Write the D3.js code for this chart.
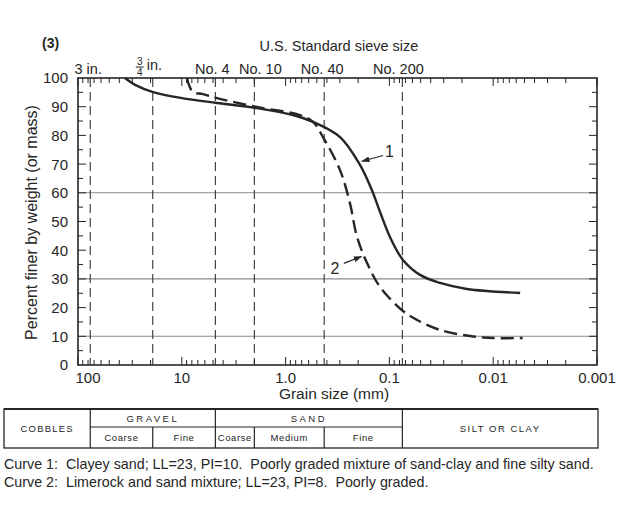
<!DOCTYPE html>
<html>
<head>
<meta charset="utf-8">
<script src="https://cdn.jsdelivr.net/npm/d3@7/dist/d3.min.js"></script>
<style>
  html, body { margin: 0; padding: 0; background: #fff; }
  svg { display: block; font-family: "Liberation Sans", Arial, Helvetica, sans-serif; }
</style>
</head>
<body>
<svg id="chart" width="641" height="531"></svg>
<script>
// ---------- data ----------
const sizes1 = [35.3, 28.2, 18.9, 10.0, 4.58, 1.89, 0.849, 0.545, 0.299, 0.192, 0.147, 0.123, 0.0987, 0.074, 0.0507, 0.0325, 0.0179, 0.0055];
const pct1   = [100, 97.6, 95.1, 93.0, 91.3, 89.5, 87.1, 84.7, 79.4, 69.7, 60.8, 53.3, 44.6, 36.6, 31.4, 28.6, 26.5, 25.1];
const sizes2 = [8.91, 8.53, 7.80, 6.25, 4.58, 1.89, 0.727, 0.545, 0.436, 0.299, 0.240, 0.205, 0.164, 0.123, 0.074, 0.0542, 0.0325, 0.0167, 0.0100, 0.0052];
const pct2   = [100, 97.6, 95.1, 94.4, 93.0, 89.9, 87.1, 84.7, 79.4, 67.9, 56.4, 44.6, 35.5, 27.2, 18.8, 15.7, 12.2, 10.1, 9.4, 9.4];

const sieveNames = ["3 in.", "3/4 in.", "No. 4", "No. 10", "No. 40", "No. 200"];
const sieveSizes = [76.2, 19.05, 4.75, 2.0, 0.425, 0.075];

const xTickValues = [100, 10, 1, 0.1, 0.01, 0.001];
const xTickLabels = ["100", "10", "1.0", "0.1", "0.01", "0.001"];
const yTickValues = [0, 10, 20, 30, 40, 50, 60, 70, 80, 90, 100];
const gridPercents = [60, 30, 10];

const soilGroups = ["COBBLES", "GRAVEL", "SAND", "SILT OR CLAY"];
const soilSubGroups = ["Coarse", "Fine", "Coarse", "Medium", "Fine"];

const captions = [
  "Curve 1:  Clayey sand; LL=23, PI=10.  Poorly graded mixture of sand-clay and fine silty sand.",
  "Curve 2:  Limerock and sand mixture; LL=23, PI=8.  Poorly graded."
];

// ---------- layout ----------
const L = 78, R = 597, T = 78, B = 365;
const ink = "#262626";
const svg = d3.select("#chart");

const x = d3.scaleLog().domain([100, 0.001]).range([L, R]);
const y = d3.scaleLinear().domain([0, 100]).range([B, T]);

// gridlines
svg.append("g").selectAll("line").data(gridPercents).join("line")
  .attr("x1", L).attr("x2", R).attr("y1", d => y(d)).attr("y2", d => y(d))
  .attr("stroke", "#8a8a8a").attr("stroke-width", 1.1);

// sieve dashed verticals
svg.append("g").selectAll("line").data(sieveSizes).join("line")
  .attr("x1", d => x(d)).attr("x2", d => x(d)).attr("y1", T).attr("y2", B)
  .attr("stroke", "#333").attr("stroke-width", 1.1).attr("stroke-dasharray", "9,5");

// log-axis ticks (minor 2..9 per decade, major at decades)
const ticksAll = [];
[100, 10, 1, 0.1, 0.01].forEach(dec => {
  for (let m = 9; m >= 2; m--) ticksAll.push({v: dec * m / 10, major: false});
});
xTickValues.forEach(v => ticksAll.push({v, major: true}));

const tg = svg.append("g").attr("stroke", ink).attr("stroke-width", 1);
tg.selectAll("line.b").data(ticksAll).join("line").attr("class", "b")
  .attr("x1", d => x(d.v)).attr("x2", d => x(d.v))
  .attr("y1", B).attr("y2", d => B - (d.major ? 8 : 5));
tg.selectAll("line.t").data(ticksAll).join("line").attr("class", "t")
  .attr("x1", d => x(d.v)).attr("x2", d => x(d.v))
  .attr("y1", T).attr("y2", d => T + (d.major ? 8 : 5));

// y ticks every 5 on both sides
const yTicksAll = d3.range(5, 100, 5);
tg.selectAll("line.l").data(yTicksAll).join("line").attr("class", "l")
  .attr("y1", d => y(d)).attr("y2", d => y(d))
  .attr("x1", L).attr("x2", d => L + (d % 10 === 0 ? 8 : 5));
tg.selectAll("line.r").data(yTicksAll).join("line").attr("class", "r")
  .attr("y1", d => y(d)).attr("y2", d => y(d))
  .attr("x1", R).attr("x2", d => R - (d % 10 === 0 ? 8 : 5));

// frame
svg.append("rect").attr("x", L).attr("y", T).attr("width", R - L).attr("height", B - T)
  .attr("fill", "none").attr("stroke", ink).attr("stroke-width", 1.6);

// y tick labels
svg.append("g").selectAll("text").data(yTickValues).join("text")
  .attr("x", 68).attr("y", d => y(d)).attr("dy", "0.36em")
  .attr("text-anchor", "end").attr("font-size", 15).attr("fill", ink)
  .text(d => d);

// x tick labels
svg.append("g").selectAll("text").data(xTickValues).join("text")
  .attr("x", (d, i) => x(d) + (i === 0 ? 10 : 0)).attr("y", B + 18)
  .attr("text-anchor", "middle").attr("font-size", 15).attr("fill", ink)
  .text((d, i) => xTickLabels[i]);

// axis titles
svg.append("text").attr("x", 334).attr("y", B + 34).attr("text-anchor", "middle")
  .attr("font-size", 15.5).attr("fill", ink).text("Grain size (mm)");
svg.append("text").attr("transform", `translate(37,${(T + B) / 2 + 1}) rotate(-90)`)
  .attr("text-anchor", "middle").attr("font-size", 16).attr("fill", ink)
  .text("Percent finer by weight (or mass)");

svg.append("text").attr("x", 42).attr("y", 48).attr("font-size", 14).attr("font-weight", "bold")
  .attr("fill", ink).text("(3)");
svg.append("text").attr("x", 339).attr("y", 51).attr("text-anchor", "middle")
  .attr("font-size", 14.5).attr("fill", ink).text("U.S. Standard sieve size");

// sieve labels
const sg = svg.append("g").attr("fill", ink).attr("font-size", 14.5);
const sieveDx = [-2, 0, -3, 6, -2, -4];
sieveNames.forEach((name, i) => {
  const cx = x(sieveSizes[i]) + sieveDx[i];
  if (name.startsWith("3/4")) {
    const g = sg.append("g");
    g.append("text").attr("x", cx - 13).attr("y", 65).attr("text-anchor", "middle").attr("font-size", 10).text("3");
    g.append("line").attr("x1", cx - 17).attr("x2", cx - 9).attr("y1", 67).attr("y2", 67).attr("stroke", ink).attr("stroke-width", 1);
    g.append("text").attr("x", cx - 13).attr("y", 76).attr("text-anchor", "middle").attr("font-size", 10).text("4");
    g.append("text").attr("x", cx - 6).attr("y", 70).attr("text-anchor", "start").text("in.");
  } else {
    sg.append("text").attr("x", cx).attr("y", 74).attr("text-anchor", "middle").text(name);
  }
});

// curves
const line = d3.line().x(d => x(d[0])).y(d => y(d[1])).curve(d3.curveCatmullRom.alpha(0.5));
svg.append("path").datum(sizes1.map((s, i) => [s, pct1[i]])).attr("d", line)
  .attr("fill", "none").attr("stroke", ink).attr("stroke-width", 2.4);
svg.append("path").datum(sizes2.map((s, i) => [s, pct2[i]])).attr("d", line)
  .attr("fill", "none").attr("stroke", ink).attr("stroke-width", 2.4).attr("stroke-dasharray", "13,6");

// curve labels with arrows
const defs = svg.append("defs");
defs.append("marker").attr("id", "ah").attr("viewBox", "0 0 10 10").attr("refX", 9).attr("refY", 5)
  .attr("markerWidth", 7).attr("markerHeight", 7).attr("orient", "auto")
  .append("path").attr("d", "M0,1.5 L10,5 L0,8.5 Z").attr("fill", ink);

const curveLabels = [
  {text: "1", at: [0.100, 74.5], from: [0.115, 73.0], to: [0.184, 71.0]},
  {text: "2", at: [0.334, 33.6], from: [0.275, 35.4], to: [0.186, 37.8]}
];
curveLabels.forEach(c => {
  svg.append("line").attr("x1", x(c.from[0])).attr("y1", y(c.from[1]))
    .attr("x2", x(c.to[0])).attr("y2", y(c.to[1]))
    .attr("stroke", ink).attr("stroke-width", 1.2).attr("marker-end", "url(#ah)");
  svg.append("text").attr("x", x(c.at[0])).attr("y", y(c.at[1])).attr("dy", "0.36em")
    .attr("text-anchor", "middle").attr("font-size", 16).attr("fill", ink).text(c.text);
});

// ---------- classification table ----------
const tL = 4, tR = 598, tT = 409, tM = 427, tB = 448;
const tb = svg.append("g");
const groupEdges = [tL, x(sieveSizes[0]), x(sieveSizes[2]), x(sieveSizes[5]), tR];
const subEdges = [x(sieveSizes[0]), x(sieveSizes[1]), x(sieveSizes[2]), x(sieveSizes[3]), x(sieveSizes[4]), x(sieveSizes[5])];

tb.append("rect").attr("x", tL).attr("y", tT).attr("width", tR - tL).attr("height", tB - tT)
  .attr("fill", "none").attr("stroke", ink).attr("stroke-width", 1.3);
tb.append("line").attr("x1", tL).attr("x2", tR).attr("y1", tT).attr("y2", tT).attr("stroke", ink).attr("stroke-width", 2.2);
tb.selectAll("line.g").data(groupEdges.slice(1, 4)).join("line").attr("class", "g")
  .attr("x1", d => d).attr("x2", d => d).attr("y1", tT).attr("y2", tB)
  .attr("stroke", ink).attr("stroke-width", 1.2);
tb.append("line").attr("x1", groupEdges[1]).attr("x2", groupEdges[3]).attr("y1", tM).attr("y2", tM)
  .attr("stroke", ink).attr("stroke-width", 1.2);
tb.selectAll("line.s").data([subEdges[1], subEdges[3], subEdges[4]]).join("line").attr("class", "s")
  .attr("x1", d => d).attr("x2", d => d).attr("y1", tM).attr("y2", tB)
  .attr("stroke", ink).attr("stroke-width", 1.2);

soilGroups.forEach((g, i) => {
  const cx = (groupEdges[i] + groupEdges[i + 1]) / 2;
  const twoRow = (i === 1 || i === 2);
  tb.append("text").attr("x", cx).attr("y", twoRow ? (tT + tM) / 2 + 0.5 : (tT + tB) / 2)
    .attr("dy", "0.36em").attr("text-anchor", "middle").attr("font-size", 9.5)
    .attr("letter-spacing", i === 0 ? 1.2 : (i === 3 ? 1.5 : 2.5)).attr("fill", ink).text(g);
});
soilSubGroups.forEach((s, i) => {
  const cx = (subEdges[i] + subEdges[i + 1]) / 2;
  tb.append("text").attr("x", cx).attr("y", (tM + tB) / 2 + 0.5).attr("dy", "0.36em")
    .attr("text-anchor", "middle").attr("font-size", 9.5).attr("letter-spacing", 0.6)
    .attr("fill", ink).text(s);
});

// captions
svg.append("g").selectAll("text").data(captions).join("text")
  .attr("x", 4).attr("y", (d, i) => 469 + i * 18)
  .attr("font-size", 14.3).attr("fill", ink)
  .style("white-space", "pre").text(d => d);
</script>
</body>
</html>
